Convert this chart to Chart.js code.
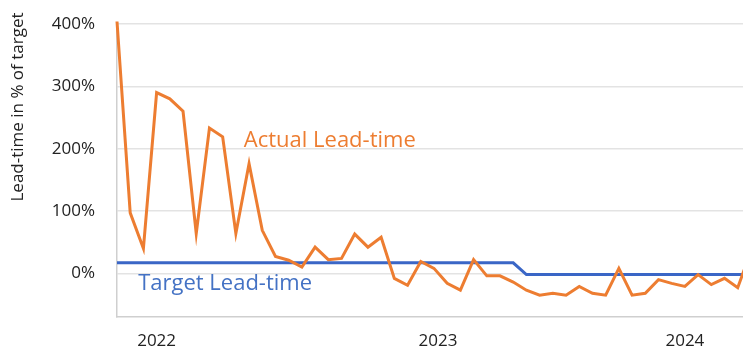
<!DOCTYPE html>
<html>
<head>
<meta charset="utf-8">
<script src="https://cdn.jsdelivr.net/npm/chart.js@4"></script>
<style>
  html, body { margin: 0; padding: 0; background: #fff; }
  #wrap { width: 743px; height: 354px; }
</style>
</head>
<body>
<div id="wrap"><canvas id="chart" width="743" height="354"></canvas></div>
<script>
// period index along the x axis (one reading every few weeks)
const periods = [0, 1, 2, 3, 4, 5, 6, 7, 8, 9, 10, 11, 12, 13, 14, 15, 16, 17, 18, 19,
    20, 21, 22, 23, 24, 25, 26, 27, 28, 29, 30, 31, 32, 33, 34, 35, 36, 37, 38, 39,
    40, 41, 42, 43, 44, 45, 46, 47, 48];

const actualLeadTime = [404, 97, 40, 290, 280, 260, 64, 233, 219, 64,
    176, 69, 27, 21, 10, 42, 22, 24, 63, 42,
    58, -8, -19, 19, 8, -16, -27, 22, -4, -4,
    -14, -27, -35, -32, -35, -21, -32, -35, 8, -35,
    -32, -10, -16, -21, -2, -18, -8, -23, 35];

const targetLeadTime = [17, 17, 17, 17, 17, 17, 17, 17, 17, 17,
    17, 17, 17, 17, 17, 17, 17, 17, 17, 17,
    17, 17, 17, 17, 17, 17, 17, 17, 17, 17,
    17, -2, -2, -2, -2, -2, -2, -2, -2, -2,
    -2, -2, -2, -2, -2, -2, -2, -2, -2];

const yearTicks = [3, 24.3, 43];
const yearLabels = ['2022', '2023', '2024'];
const yTickValues = [0, 100, 200, 300, 400];

const FONT = '"Open Sans", "Noto Sans", sans-serif';
const ORANGE = '#ED7D31';
const BLUE = '#3A66C6';

// text labels next to the lines, plus the y axis title sitting near the top
const chartTexts = {
    id: 'chartTexts',
    afterDatasetsDraw(chart) {
        const { ctx, scales: { x, y } } = chart;
        ctx.save();
        ctx.font = '22px ' + FONT;
        ctx.textBaseline = 'middle';
        ctx.textAlign = 'left';
        ctx.fillStyle = ORANGE;
        ctx.fillText('Actual Lead-time', x.getPixelForValue(9.6), y.getPixelForValue(213));
        ctx.fillStyle = '#4472C4';
        ctx.fillText('Target Lead-time', x.getPixelForValue(1.6), y.getPixelForValue(-16));

        ctx.translate(18, 107);
        ctx.rotate(-Math.PI / 2);
        ctx.textAlign = 'center';
        ctx.fillStyle = '#222';
        ctx.font = '17px ' + FONT;
        ctx.fillText('Lead-time in % of target', 0, 0);
        ctx.restore();
    }
};

const ctx = document.getElementById('chart').getContext('2d');
const myChart = new Chart(ctx, {
    type: 'line',
    data: {
        datasets: [{
            label: 'Actual Lead-time',
            data: periods.map((p, i) => ({ x: p, y: actualLeadTime[i] })),
            borderColor: ORANGE,
            borderWidth: 3,
            pointRadius: 0,
            tension: 0,
            clip: { left: 5, top: 6, right: 0, bottom: 5 }
        }, {
            label: 'Target Lead-time',
            data: periods.map((p, i) => ({ x: p, y: targetLeadTime[i] })),
            borderColor: BLUE,
            borderWidth: 3,
            pointRadius: 0,
            tension: 0,
            clip: { left: 3, top: 5, right: 0, bottom: 5 }
        }]
    },
    options: {
        responsive: false,
        animation: false,
        layout: { padding: { top: 24, right: 0, bottom: 0, left: 0 } },
        plugins: {
            legend: { display: false },
            tooltip: { enabled: false }
        },
        scales: {
            x: {
                type: 'linear',
                min: 0,
                max: 47.4,
                grid: { display: false },
                border: { display: true, color: '#cfcfcf', width: 1.5 },
                afterBuildTicks: scale => {
                    scale.ticks = yearTicks.map(v => ({ value: v }));
                },
                afterFit: scale => { scale.height = 37; },
                ticks: {
                    autoSkip: false,
                    maxRotation: 0,
                    padding: 6,
                    color: '#222',
                    font: { family: FONT, size: 17 },
                    callback: (v, i) => yearLabels[i]
                }
            },
            y: {
                min: -70,
                max: 400,
                afterBuildTicks: scale => {
                    scale.ticks = yTickValues.map(v => ({ value: v }));
                },
                afterFit: scale => { scale.width = 117; },
                grid: {
                    color: '#e3e3e3',
                    lineWidth: 1.5,
                    drawTicks: true,
                    tickLength: 22,
                    tickColor: 'rgba(0,0,0,0)'
                },
                border: { display: true, color: '#cfcfcf', width: 1.5 },
                ticks: {
                    padding: 0,
                    color: '#222',
                    font: { family: FONT, size: 17 },
                    callback: v => v + '%'
                }
            }
        }
    },
    plugins: [chartTexts]
});
</script>
</body>
</html>
